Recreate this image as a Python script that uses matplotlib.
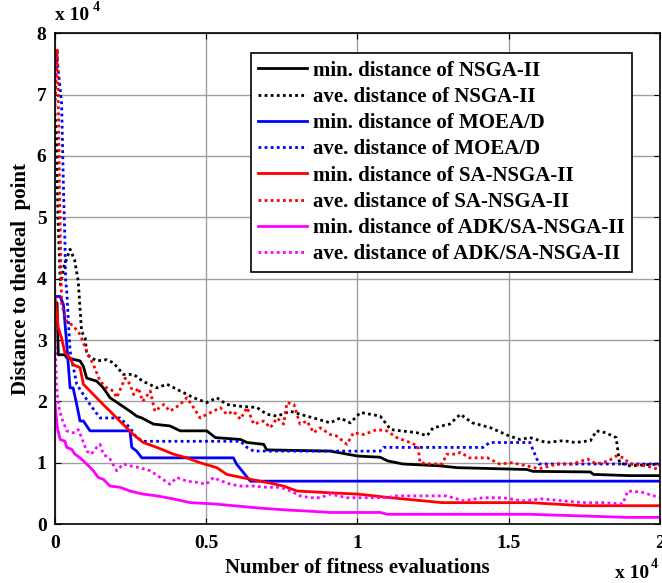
import numpy as np
import matplotlib
matplotlib.use("Agg")
import matplotlib.pyplot as plt

plt.rcParams["font.family"] = ["Liberation Serif", "DejaVu Serif"]
plt.rcParams["font.weight"] = "bold"

# x: fitness evaluations (x 10^4), y: distance to the ideal point (x 10^4)
nsga_min_x = [0, 0.007, 0.011, 0.033, 0.039, 0.083, 0.094, 0.105, 0.138, 0.16, 0.182, 0.215,
              0.248, 0.27, 0.287, 0.326, 0.38, 0.414, 0.502, 0.53, 0.613, 0.635, 0.69, 0.70,
              0.91, 1.0, 1.075, 1.10, 1.15, 1.27, 1.33, 1.56, 1.58, 1.77, 1.78, 1.9, 2.0]
nsga_min_y = [3.63, 3.6, 2.76, 2.76, 2.71, 2.66, 2.57, 2.38, 2.33, 2.22, 2.06, 1.95,
              1.84, 1.76, 1.73, 1.63, 1.6, 1.52, 1.52, 1.41, 1.38, 1.33, 1.3, 1.21,
              1.19, 1.11, 1.09, 1.03, 0.98, 0.95, 0.92, 0.89, 0.86, 0.85, 0.81, 0.79, 0.79]

nsga_ave_x = [0, 0.005, 0.01, 0.018, 0.03, 0.05, 0.065, 0.077, 0.088, 0.1, 0.105, 0.138,
              0.171, 0.193, 0.226, 0.26, 0.29, 0.337, 0.37, 0.414, 0.458, 0.502, 0.535,
              0.568, 0.613, 0.668, 0.70, 0.734, 0.778, 0.81, 0.855, 0.91, 0.943, 0.976,
              1.01, 1.075, 1.11, 1.196, 1.23, 1.25, 1.305, 1.34, 1.38, 1.44, 1.50, 1.536,
              1.57, 1.624, 1.68, 1.72, 1.77, 1.79, 1.82, 1.855, 1.866, 1.9, 2.0]
nsga_ave_y = [6.7, 6.3, 5.0, 3.9, 4.2, 4.48, 4.3, 3.96, 3.14, 3.03, 2.76, 2.66,
              2.68, 2.63, 2.44, 2.44, 2.33, 2.22, 2.28, 2.17, 2.06, 1.98, 2.06,
              1.95, 1.92, 1.9, 1.79, 1.76, 1.84, 1.79, 1.73, 1.65, 1.73, 1.65,
              1.82, 1.76, 1.54, 1.49, 1.44, 1.57, 1.63, 1.79, 1.65, 1.57, 1.44, 1.38,
              1.41, 1.33, 1.36, 1.33, 1.36, 1.52, 1.49, 1.41, 1.0, 0.95, 0.98]

moead_min_x = [0, 0.017, 0.028, 0.039, 0.05, 0.06, 0.072, 0.083, 0.094, 0.116, 0.248, 0.254,
               0.27, 0.287, 0.59, 0.60, 0.646, 2.0]
moead_min_y = [3.71, 3.71, 3.58, 2.93, 2.22, 2.22, 1.95, 1.68, 1.68, 1.52, 1.52, 1.25,
               1.19, 1.08, 1.08, 0.98, 0.70, 0.70]

moead_ave_x = [0, 0.006, 0.022, 0.028, 0.033, 0.035, 0.039, 0.05, 0.072, 0.094, 0.116, 0.149,
               0.215, 0.248, 0.27, 0.292, 0.613, 0.635, 0.657, 1.075, 1.086, 1.415, 1.437,
               1.57, 1.6, 2.0]
moead_ave_y = [7.2, 7.64, 6.86, 5.5, 4.6, 4.0, 3.79, 2.82, 2.28, 2.11, 1.95, 1.73,
               1.73, 1.57, 1.41, 1.35, 1.35, 1.25, 1.19, 1.19, 1.25, 1.25, 1.33,
               1.33, 0.98, 0.98]

sa_min_x = [0, 0.011, 0.022, 0.033, 0.05, 0.06, 0.083, 0.094, 0.116, 0.149, 0.182, 0.204,
            0.237, 0.259, 0.292, 0.337, 0.392, 0.436, 0.48, 0.535, 0.568, 0.646, 0.70,
            0.756, 0.8, 0.91, 1.0, 1.11, 1.28, 1.57, 1.745, 2.0]
sa_min_y = [3.71, 3.2, 3.03, 2.79, 2.71, 2.6, 2.55, 2.28, 2.17, 2.0, 1.84, 1.73,
            1.57, 1.46, 1.33, 1.25, 1.14, 1.08, 1.0, 0.92, 0.81, 0.73, 0.68,
            0.62, 0.54, 0.51, 0.49, 0.43, 0.35, 0.35, 0.30, 0.30]

sa_ave_x = [0, 0.008, 0.012, 0.015, 0.02, 0.022, 0.039, 0.055, 0.077, 0.088, 0.105, 0.127,
            0.149, 0.171, 0.193, 0.204, 0.232, 0.248, 0.26, 0.276, 0.29, 0.315, 0.33,
            0.36, 0.38, 0.414, 0.436, 0.458, 0.48, 0.502, 0.524, 0.546, 0.568, 0.59,
            0.613, 0.635, 0.657, 0.69, 0.712, 0.734, 0.756, 0.767, 0.79, 0.81, 0.833,
            0.855, 0.877, 0.91, 0.93, 0.965, 0.987, 1.02, 1.064, 1.097, 1.13, 1.174,
            1.2, 1.207, 1.24, 1.28, 1.295, 1.33, 1.34, 1.37, 1.43, 1.47, 1.51, 1.56,
            1.6, 1.66, 1.71, 1.76, 1.79, 1.83, 1.855, 1.88, 1.9, 1.955, 1.99, 2.0]
sa_ave_y = [6.8, 7.75, 6.6, 5.5, 4.1, 3.58, 3.3, 3.25, 3.14, 3.03, 2.82, 2.6,
            2.33, 2.22, 2.17, 2.06, 2.38, 2.28, 2.11, 2.22, 2.0, 2.17, 1.84,
            1.95, 1.84, 1.95, 2.06, 1.9, 1.73, 1.79, 1.84, 1.9, 1.79, 1.84,
            1.71, 1.9, 1.63, 1.68, 1.57, 1.73, 1.63, 1.98, 1.95, 1.63, 1.68,
            1.49, 1.57, 1.46, 1.44, 1.3, 1.49, 1.46, 1.54, 1.52, 1.41, 1.33,
            1.27, 1.0, 0.98, 0.98, 1.14, 1.14, 1.17, 1.08, 1.08, 0.98, 1.0, 0.95,
            0.9, 0.98, 0.98, 1.06, 0.98, 1.03, 1.11, 1.08, 0.98, 0.95, 0.9, 0.98]

adk_min_x = [0, 0.008, 0.017, 0.033, 0.039, 0.055, 0.066, 0.083, 0.105, 0.127, 0.143, 0.16,
             0.182, 0.215, 0.248, 0.29, 0.337, 0.392, 0.447, 0.524, 0.59, 0.68, 0.767,
             0.845, 0.91, 1.075, 1.1, 1.57, 1.89, 2.0]
adk_min_y = [1.98, 1.57, 1.38, 1.35, 1.25, 1.22, 1.14, 1.08, 0.98, 0.87, 0.76, 0.73,
             0.62, 0.6, 0.54, 0.49, 0.46, 0.41, 0.35, 0.33, 0.3, 0.26, 0.23,
             0.21, 0.19, 0.19, 0.16, 0.16, 0.11, 0.11]

adk_ave_x = [0, 0.005, 0.011, 0.022, 0.039, 0.055, 0.066, 0.077, 0.088, 0.105, 0.12, 0.138,
             0.149, 0.16, 0.182, 0.204, 0.226, 0.248, 0.28, 0.315, 0.348, 0.38, 0.403,
             0.436, 0.47, 0.5, 0.524, 0.546, 0.58, 0.613, 0.657, 0.70, 0.745, 0.778,
             0.81, 0.845, 0.877, 0.91, 0.965, 1.02, 1.1, 1.12, 1.196, 1.295, 1.35,
             1.415, 1.48, 1.546, 1.61, 1.68, 1.745, 1.81, 1.877, 1.893, 1.94, 2.0]
adk_ave_y = [3.2, 2.28, 1.95, 1.73, 1.52, 1.49, 1.49, 1.54, 1.41, 1.19, 1.14, 1.25,
             1.3, 1.14, 1.06, 0.87, 0.98, 0.95, 0.92, 0.87, 0.76, 0.65, 0.76,
             0.7, 0.68, 0.65, 0.76, 0.71, 0.65, 0.62, 0.62, 0.6, 0.6, 0.54,
             0.46, 0.43, 0.43, 0.49, 0.43, 0.43, 0.43, 0.46, 0.46, 0.46, 0.38,
             0.43, 0.43, 0.38, 0.41, 0.38, 0.35, 0.35, 0.33, 0.54, 0.52, 0.43]

series = [
    (nsga_min_x, nsga_min_y, "k", "-", "min. distance of NSGA-II"),
    (nsga_ave_x, nsga_ave_y, "k", ":", "ave. distance of NSGA-II"),
    (moead_min_x, moead_min_y, "#0000ff", "-", "min. distance of MOEA/D"),
    (moead_ave_x, moead_ave_y, "#0000ff", ":", "ave. distance of MOEA/D"),
    (sa_min_x, sa_min_y, "#ff0000", "-", "min. distance of SA-NSGA-II"),
    (sa_ave_x, sa_ave_y, "#ff0000", ":", "ave. distance of SA-NSGA-II"),
    (adk_min_x, adk_min_y, "#ff00ff", "-", "min. distance of ADK/SA-NSGA-II"),
    (adk_ave_x, adk_ave_y, "#ff00ff", ":", "ave. distance of ADK/SA-NSGA-II"),
]

fig = plt.figure(figsize=(6.62, 5.83), dpi=100)
ax = fig.add_axes([0.083, 0.101, 0.914, 0.842])

for x, y, color, style, label in series:
    ls = "-" if style == "-" else (0, (1, 1.2))
    ax.plot(x, y, color=color, linestyle=ls, linewidth=2, label=label)

ax.set_xlim(0, 2)
ax.set_ylim(0, 8)
ax.set_xticks([0, 0.5, 1, 1.5, 2])
ax.set_xticklabels(["0", "0.5", "1", "1.5", "2"])
ax.set_yticks(range(9))
ax.grid(True, color="#a0a0a0", linewidth=1)
ax.tick_params(axis="both", direction="in", top=True, right=True, labelsize=14, length=4)
ax.tick_params(axis="x", pad=8)
ax.tick_params(axis="y", pad=6)
for s in ax.spines.values():
    s.set_linewidth(1.2)

ax.set_xlabel("Number of fitness evaluations", fontsize=15, fontweight="bold", labelpad=4)
ax.set_ylabel("Distance to theideal  point", fontsize=15, fontweight="bold", labelpad=4)

# exponent labels, MATLAB style
ax.text(0.0, 1.037, "x 10", transform=ax.transAxes, fontsize=14, fontweight="bold", va="center")
ax.text(0.063, 1.052, "4", transform=ax.transAxes, fontsize=10, fontweight="bold", va="center")
ax.text(0.925, -0.1, "x 10", transform=ax.transAxes, fontsize=14, fontweight="bold", va="center")
ax.text(0.985, -0.082, "4", transform=ax.transAxes, fontsize=10, fontweight="bold", va="center")

leg = ax.legend(loc="upper right", bbox_to_anchor=(0.954, 0.959), fontsize=15,
                frameon=True, fancybox=False, edgecolor="k", framealpha=1,
                handlelength=2.35, handletextpad=0.3, labelspacing=0.3,
                borderpad=0.35, borderaxespad=0)
leg.get_frame().set_linewidth(1.2)
for t in leg.get_texts():
    t.set_fontweight("bold")

fig.savefig("out.png", dpi=100)
